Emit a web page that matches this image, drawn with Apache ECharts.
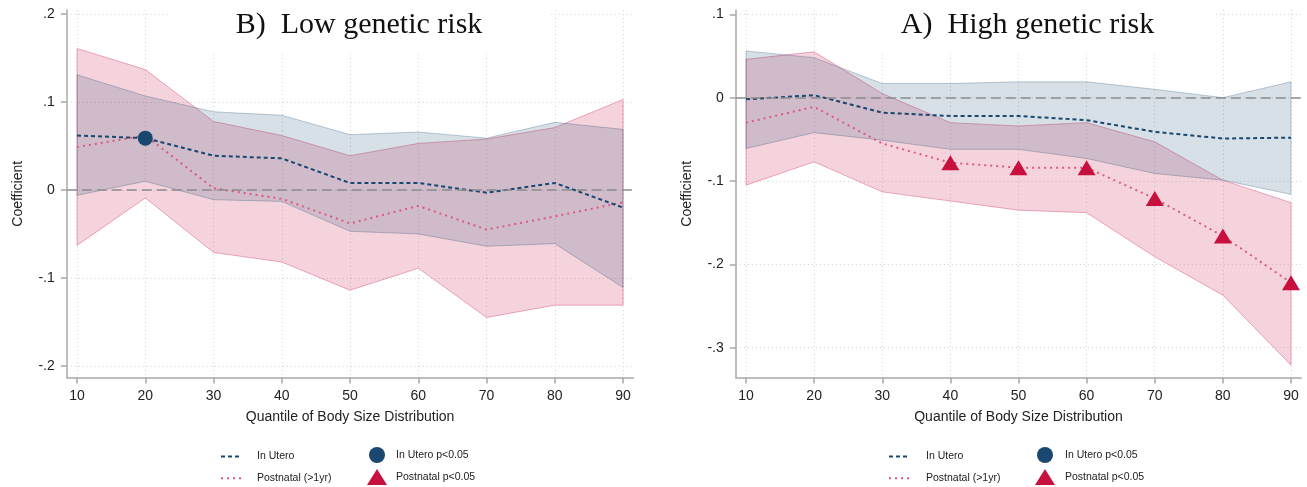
<!DOCTYPE html>
<html>
<head>
<meta charset="utf-8">
<title>Quantile coefficients by genetic risk</title>
<script src="https://cdn.jsdelivr.net/npm/echarts@6/dist/echarts.min.js"></script>
<style>
  html, body { margin: 0; padding: 0; background: #fff; }
  #chart { width: 1307px; height: 487px; }
</style>
</head>
<body>
<div id="chart"></div>
<script>
// x positions and tick labels
const quantiles = [10, 20, 30, 40, 50, 60, 70, 80, 90];
const xTicks = [10, 20, 30, 40, 50, 60, 70, 80, 90];
const lowYTicks = [-0.2, -0.1, 0, 0.1, 0.2];
const highYTicks = [-0.3, -0.2, -0.1, 0, 0.1];

// B) Low genetic risk
const lowUteroMean  = [0.062, 0.059, 0.039, 0.036, 0.008, 0.008, -0.003, 0.008, -0.020];
const lowUteroUpper = [0.131, 0.107, 0.089, 0.085, 0.063, 0.066, 0.059, 0.077, 0.069];
const lowUteroLower = [-0.006, 0.010, -0.011, -0.013, -0.047, -0.050, -0.064, -0.061, -0.111];
const lowPostMean   = [0.049, 0.062, 0.002, -0.010, -0.038, -0.018, -0.045, -0.030, -0.014];
const lowPostUpper  = [0.161, 0.137, 0.078, 0.062, 0.039, 0.053, 0.058, 0.071, 0.103];
const lowPostLower  = [-0.063, -0.009, -0.071, -0.082, -0.114, -0.089, -0.145, -0.131, -0.131];
const lowUteroSig = [20];
const lowPostSig = [];

// A) High genetic risk
const highUteroMean  = [-0.002, 0.003, -0.018, -0.022, -0.022, -0.027, -0.041, -0.049, -0.048];
const highUteroUpper = [0.056, 0.048, 0.017, 0.017, 0.019, 0.019, 0.010, 0.000, 0.019];
const highUteroLower = [-0.061, -0.042, -0.051, -0.062, -0.062, -0.073, -0.091, -0.099, -0.116];
const highPostMean   = [-0.030, -0.011, -0.055, -0.078, -0.084, -0.084, -0.121, -0.166, -0.222];
const highPostUpper  = [0.046, 0.055, 0.005, -0.030, -0.034, -0.030, -0.053, -0.099, -0.126];
const highPostLower  = [-0.105, -0.077, -0.113, -0.124, -0.135, -0.138, -0.191, -0.237, -0.321];
const highUteroSig = [];
const highPostSig = [40, 50, 60, 70, 80, 90];

const sans = '"Liberation Sans", Arial, Helvetica, sans-serif';
const serif = '"Liberation Serif", "Times New Roman", serif';
const navy = '#1a476f';
const pink = '#dc5a80';
const crimson = '#c8103e';
const axisGray = '#a8a8a8';
const gridGray = '#d2d2d2';
const noSymbol = { color: 'rgba(0,0,0,0)', borderWidth: 0 };

function fmtY(v) {
  const r = Math.round(v * 10) / 10;
  if (r === 0) return '0';
  return (r < 0 ? '-' : '') + String(Math.abs(r)).replace(/^0/, '');
}

function xAxisFor(gridIndex) {
  return {
    type: 'value', gridIndex, min: 8.5, max: 91.5,
    name: 'Quantile of Body Size Distribution',
    nameLocation: 'middle', nameGap: 33,
    nameTextStyle: { fontFamily: sans, fontSize: 14, color: '#222' },
    axisLine: { onZero: false, lineStyle: { color: axisGray, width: 1.5 } },
    axisTick: { customValues: xTicks, length: 6, lineStyle: { color: axisGray, width: 1.5 } },
    axisLabel: { customValues: xTicks, margin: 12, fontFamily: sans, fontSize: 14, color: '#222' },
    splitLine: { show: true, lineStyle: { color: gridGray, width: 1, type: [1, 3] } },
  };
}

function yAxisFor(gridIndex, min, max, ticks) {
  return {
    type: 'value', gridIndex, min, max,
    name: 'Coefficient', nameLocation: 'middle', nameGap: 42,
    nameTextStyle: { fontFamily: sans, fontSize: 14, color: '#222' },
    axisLine: { show: true, onZero: false, lineStyle: { color: axisGray, width: 1.5 } },
    axisTick: { show: true, customValues: ticks, length: 6, lineStyle: { color: axisGray, width: 1.5 } },
    axisLabel: { customValues: ticks, margin: 12, fontFamily: sans, fontSize: 14, color: '#222', formatter: fmtY },
    splitLine: { show: true, lineStyle: { color: gridGray, width: 1, type: [1, 3] } },
  };
}

function band(idx, upper, lower, fill, stroke) {
  return {
    type: 'custom', xAxisIndex: idx, yAxisIndex: idx, silent: true, clip: false,
    data: [[quantiles[0], upper[0]]],
    renderItem: (params, api) => {
      const top = quantiles.map((q, i) => api.coord([q, upper[i]]));
      const bottom = quantiles.map((q, i) => api.coord([q, lower[i]])).reverse();
      return {
        type: 'polygon',
        shape: { points: top.concat(bottom) },
        style: { fill, stroke, lineWidth: 1 },
      };
    },
  };
}

function meanLine(idx, name, values, color, dash, zero) {
  const s = {
    type: 'line', name, xAxisIndex: idx, yAxisIndex: idx,
    symbol: 'none', clip: false, z: 3,
    lineStyle: { color, width: 2, type: dash },
    itemStyle: { color },
    data: quantiles.map((q, i) => [q, values[i]]),
  };
  if (zero) {
    s.markLine = {
      silent: true, symbol: 'none', label: { show: false },
      lineStyle: { color: '#8c8c8c', width: 1.5, type: [10, 5] },
      data: [{ yAxis: 0 }],
    };
  }
  return s;
}

function sigPoints(idx, name, sig, values, symbol, size, color) {
  return {
    type: 'scatter', name, xAxisIndex: idx, yAxisIndex: idx,
    symbol, symbolSize: size, clip: false, z: 5,
    itemStyle: { color, opacity: 1 },
    data: sig.map(q => [q, values[quantiles.indexOf(q)]]),
  };
}

function panelSeries(idx, uMean, uUp, uLo, pMean, pUp, pLo, uSig, pSig) {
  return [
    band(idx, pUp, pLo, 'rgba(214,69,110,0.24)', 'rgba(220,90,128,0.5)'),
    band(idx, uUp, uLo, 'rgba(26,71,111,0.17)', 'rgba(26,71,111,0.28)'),
    meanLine(idx, 'Postnatal (>1yr)', pMean, pink, [2, 4], true),
    meanLine(idx, 'In Utero', uMean, navy, [4, 3], false),
    sigPoints(idx, 'In Utero p<0.05', uSig, uMean, 'circle', 15, navy),
    sigPoints(idx, 'Postnatal p<0.05', pSig, pMean, 'triangle', [18, 15], crimson),
  ];
}

function legendAt(left, top, gap, names, pad) {
  return {
    left, top, orient: 'vertical', padding: 0,
    itemWidth: 20, itemHeight: 16, itemGap: gap,
    selectedMode: false,
    textStyle: { fontFamily: sans, fontSize: 10.5, color: '#222', padding: [0, 0, 0, pad] },
    data: names,
  };
}

function titleBox(x0, x1, text) {
  return [
    { type: 'rect', left: x0, top: 0, shape: { width: x1 - x0, height: 53 }, style: { fill: '#fff' }, z: 10 },
    {
      type: 'text', x: (x0 + x1) / 2, y: 25, z: 11,
      style: { text, fill: '#111', font: '30px ' + serif, textAlign: 'center', textVerticalAlign: 'middle' },
    },
  ];
}

const lineItems = [
  { name: 'In Utero', itemStyle: noSymbol },
  { name: 'Postnatal (>1yr)', itemStyle: noSymbol },
];
const markerItems = [
  { name: 'In Utero p<0.05', icon: 'circle' },
  { name: 'Postnatal p<0.05', icon: 'triangle' },
];

const chart = echarts.init(document.getElementById('chart'));
chart.setOption({
  animation: false,
  backgroundColor: '#fff',
  grid: [
    { left: 66.8, top: 10, width: 566.5, height: 367.5 },
    { left: 735.8, top: 10, width: 565.4, height: 367.5 },
  ],
  xAxis: [xAxisFor(0), xAxisFor(1)],
  yAxis: [
    yAxisFor(0, -0.2133, 0.2048, lowYTicks),
    yAxisFor(1, -0.3358, 0.1052, highYTicks),
  ],
  legend: [
    legendAt(220, 450, 9, lineItems, 11),
    legendAt(367, 447, 6, markerItems, 4),
    legendAt(888, 450, 9, lineItems, 12),
    legendAt(1035, 447, 6, markerItems, 5),
  ],
  graphic: [
    ...titleBox(170, 548, 'B)  Low genetic risk'),
    ...titleBox(840, 1215, 'A)  High genetic risk'),
  ],
  series: [
    ...panelSeries(0, lowUteroMean, lowUteroUpper, lowUteroLower,
      lowPostMean, lowPostUpper, lowPostLower, lowUteroSig, lowPostSig),
    ...panelSeries(1, highUteroMean, highUteroUpper, highUteroLower,
      highPostMean, highPostUpper, highPostLower, highUteroSig, highPostSig),
  ],
});

window.addEventListener('resize', () => chart.resize());
</script>
</body>
</html>
